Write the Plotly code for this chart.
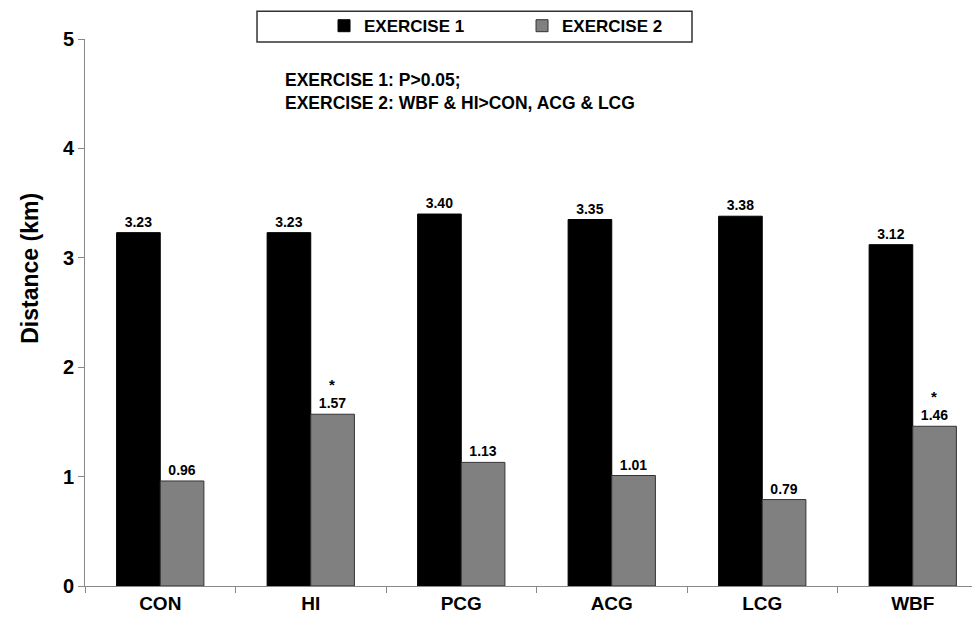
import plotly.graph_objects as go

categories = ["CON", "HI", "PCG", "ACG", "LCG", "WBF"]
exercise1 = [3.23, 3.23, 3.40, 3.35, 3.38, 3.12]
exercise2 = [0.96, 1.57, 1.13, 1.01, 0.79, 1.46]
significant2 = [False, True, False, False, False, True]
y_ticks = [0, 1, 2, 3, 4, 5]

FONT = "Liberation Sans"

fig = go.Figure()
fig.add_trace(go.Bar(
    x=categories, y=exercise1, name="<b>EXERCISE 1</b>",
    marker=dict(color="#000000", line=dict(color="#000000", width=1)),
    text=[f"<b>{v:.2f}</b>" for v in exercise1], textposition="outside",
    textfont=dict(family=FONT, size=14, color="#000000"), cliponaxis=False,
))
fig.add_trace(go.Bar(
    x=categories, y=exercise2, name="<b>EXERCISE 2</b>",
    marker=dict(color="#808080", line=dict(color="#333333", width=1)),
    text=[f"<b>{v:.2f}</b>" for v in exercise2], textposition="outside",
    textfont=dict(family=FONT, size=14, color="#000000"), cliponaxis=False,
))

for c, v, s in zip(categories, exercise2, significant2):
    if s:
        fig.add_annotation(x=c, y=v, xref="x", yref="y", text="<b>*</b>",
                           showarrow=False, xshift=21, yshift=30,
                           font=dict(family=FONT, size=15, color="#000000"))

fig.add_annotation(
    x=0.219, y=0.947, xref="paper", yref="paper", xanchor="left", yanchor="top",
    align="left", showarrow=False,
    text="<b>EXERCISE 1: P>0.05;</b><br><b>EXERCISE 2: WBF & HI>CON, ACG & LCG</b>",
    font=dict(family=FONT, size=17.5, color="#000000"),
)

# y-axis title (placed above centre, as in the original)
fig.add_annotation(
    x=-0.0609, y=0.58, xref="paper", yref="paper", xanchor="center", yanchor="middle",
    textangle=-90, showarrow=False, text="<b>Distance (km)</b>",
    font=dict(family=FONT, size=23, color="#000000"),
)

# legend frame
fig.add_shape(type="rect", xref="paper", yref="paper",
              x0=0.1905, x1=0.6722, y0=0.9945, y1=1.0509,
              line=dict(color="#333333", width=1.5), fillcolor="rgba(0,0,0,0)")

fig.update_layout(
    width=980, height=609,
    margin=dict(l=77, r=0, t=28, b=31),
    paper_bgcolor="white", plot_bgcolor="white",
    barmode="group", bargap=0.42, bargroupgap=0,
    font=dict(family=FONT, color="#000000"),
    showlegend=True,
    legend=dict(
        orientation="h", x=0.2647, y=1.0235, xanchor="left", yanchor="middle",
        borderwidth=0, bgcolor="rgba(0,0,0,0)",
        font=dict(family=FONT, size=17, color="#000000"),
        entrywidth=153, entrywidthmode="pixels", itemwidth=30,
        traceorder="normal",
    ),
    xaxis=dict(
        showline=True, linecolor="#888888", linewidth=1,
        ticks="outside", tickson="boundaries", ticklen=6, tickcolor="#888888",
        tickfont=dict(family=FONT, size=19, color="#000000"),
        tickvals=categories, ticktext=[f"<b>{c}</b>" for c in categories],
        showgrid=False,
    ),
    yaxis=dict(
        range=[0, 5], tickvals=y_ticks, ticktext=[f"<b>{t}</b>" for t in y_ticks],
        showline=True, linecolor="#888888", linewidth=1,
        ticks="outside", ticklen=6, tickcolor="#888888",
        tickfont=dict(family=FONT, size=20, color="#000000"),
        showgrid=False, zeroline=False,
    ),
)

fig.write_html("out.html")
